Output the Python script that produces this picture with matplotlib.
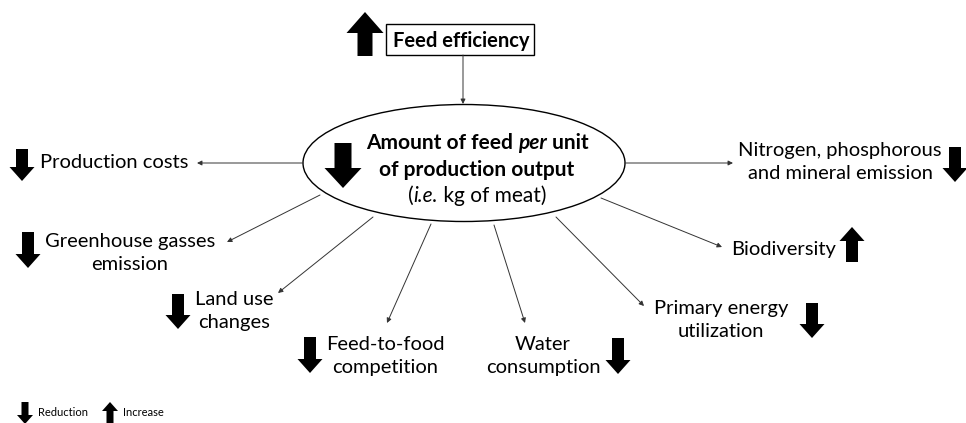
import matplotlib.pyplot as plt
from matplotlib.patches import Ellipse, FancyArrow, Rectangle

plt.rcParams['font.family'] = ['Lato', 'DejaVu Sans']

# content
top_label = "Feed efficiency"
centre_runs = [
    [("Amount of feed ", 'bold', 'normal'), ("per", 'bold', 'italic'), (" unit", 'bold', 'normal')],
    [("of production output", 'bold', 'normal')],
    [("(", 'normal', 'normal'), ("i.e.", 'normal', 'italic'), (" kg of meat)", 'normal', 'normal')],
]
outcomes = ["Production costs", "Greenhouse gasses\nemission", "Land use\nchanges",
            "Feed-to-food\ncompetition", "Water\nconsumption", "Primary energy\nutilization",
            "Biodiversity", "Nitrogen, phosphorous\nand mineral emission"]
directions = ["down", "down", "down", "down", "down", "down", "up", "down"]

# layout in pixel coords: text anchor, text align, connector start/end, block arrow (x, top, bottom)
text_pos = [(40, 163, 'left'), (130, 253, 'center'), (234, 311, 'center'), (385, 356, 'center'),
            (543, 356, 'center'), (721, 320, 'center'), (731, 250, 'left'), (840, 162, 'center')]
links = [((303, 163), (197, 163)), ((320, 195), (227, 242)), ((373, 217), (278, 293)),
         ((431, 224), (387, 323)), ((494, 225), (525, 323)), ((556, 217), (644, 306)),
         ((601, 198), (722, 247)), ((625, 163), (733, 163))]
block_pos = [(22, 149, 181), (28, 232, 268), (178, 294, 329), (310, 337, 373),
             (618, 338, 374), (812, 303, 338), (852, 227, 262), (955, 147, 182)]
centre_y = [143, 170, 196]


def block_arrow(ax, x, top, bottom, direction, shaft=12, head=25, head_len=14):
    if direction == "down":
        a = FancyArrow(x, top, 0, bottom - top, width=shaft, head_width=head,
                       head_length=head_len, length_includes_head=True, color='black', lw=0)
    else:
        a = FancyArrow(x, bottom, 0, top - bottom, width=shaft, head_width=head,
                       head_length=head_len, length_includes_head=True, color='black', lw=0)
    ax.add_patch(a)


def link(ax, start, end):
    ax.annotate('', xy=end, xytext=start,
                arrowprops=dict(arrowstyle='-|>', lw=0.7, color='#333333',
                                mutation_scale=7, shrinkA=0, shrinkB=0))


def runs_line(fig, ax, xc, y, runs, size):
    r = fig.canvas.get_renderer()
    widths = []
    for s, w, st in runs:
        t = ax.text(0, 0, s.replace(' ', '\u00a0'), fontsize=size, fontweight=w, style=st)
        widths.append(t.get_window_extent(r).width)
        t.remove()
    x = xc - sum(widths) / 2
    for (s, w, st), wd in zip(runs, widths):
        ax.text(x, y, s.replace(' ', '\u00a0'), fontsize=size, fontweight=w, style=st,
                ha='left', va='center')
        x += wd


fig = plt.figure(figsize=(9.66, 4.23), dpi=100)
ax = fig.add_axes([0, 0, 1, 1])
ax.set_xlim(0, 966)
ax.set_ylim(423, 0)
ax.axis('off')

# top box
ax.add_patch(Rectangle((386, 24), 148, 31, fill=False, lw=1.0, ec='black'))
ax.text(461, 41, top_label, fontsize=14.5, fontweight='bold', ha='center', va='center')
block_arrow(ax, 365, 12, 56, "up", shaft=15, head=37, head_len=21)
link(ax, (463, 55), (463, 104))

# ellipse
ax.add_patch(Ellipse((464, 163), 322, 117, fill=False, lw=1.0, ec='black'))
for runs, y in zip(centre_runs, centre_y):
    runs_line(fig, ax, 477, y, runs, 15)
block_arrow(ax, 343, 143, 188, "down", shaft=17, head=37, head_len=20)

for lab, d, tp, lk, bp in zip(outcomes, directions, text_pos, links, block_pos):
    ax.text(tp[0], tp[1], lab, fontsize=14.5, ha=tp[2], va='center', multialignment='center',
            linespacing=1.45)
    link(ax, lk[0], lk[1])
    block_arrow(ax, bp[0], bp[1], bp[2], d)

# legend
block_arrow(ax, 25, 402, 424, "down", shaft=7, head=16, head_len=9)
ax.text(38, 413, "Reduction", fontsize=8, ha='left', va='center')
block_arrow(ax, 110, 402, 424, "up", shaft=7, head=16, head_len=9)
ax.text(123, 413, "Increase", fontsize=8, ha='left', va='center')

fig.savefig('out.png', dpi=100)
